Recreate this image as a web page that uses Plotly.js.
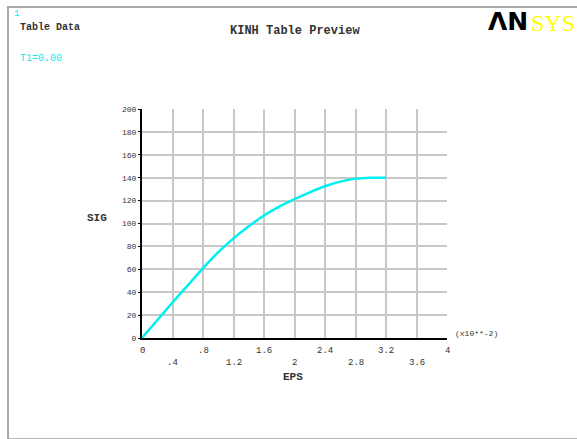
<!DOCTYPE html>
<html>
<head>
<meta charset="utf-8">
<script src="https://cdn.plot.ly/plotly-3.0.1.min.js"></script>
<style>
  html, body { margin: 0; padding: 0; background: #ffffff; }
  #wrap { position: relative; width: 577px; height: 439px; overflow: hidden; }
  #frame { position: absolute; left: 7px; top: 6px; width: 600px; height: 430px;
           border-left: 2px solid #a8a8a8; border-top: 2px solid #a8a8a8; border-bottom: 2px solid #b8b8b8; }
  #chart { position: absolute; left: 0; top: 0; width: 577px; height: 439px; }
</style>
</head>
<body>
<div id="wrap">
  <div id="frame"></div>
  <div id="chart"></div>
</div>
<script>
// Data (EPS in units of 1e-2)
const eps = [0, 0.2, 0.4, 0.6, 0.8, 1.0, 1.2, 1.4, 1.6, 1.8, 2.0, 2.2, 2.4, 2.6, 2.8, 3.0, 3.2];
const sig = [0, 15.5, 31, 46, 61, 75, 87, 97.5, 107, 114.7, 121.3, 127.2, 132.5, 136.6, 139.2, 140, 140];

const xTickVals = [0, 0.4, 0.8, 1.2, 1.6, 2.0, 2.4, 2.8, 3.2, 3.6, 4.0];
const xTickText = ["0", ".4", ".8", "1.2", "1.6", "2", "2.4", "2.8", "3.2", "3.6", "4"];
const yTickVals = [0, 20, 40, 60, 80, 100, 120, 140, 160, 180, 200];
const yTickText = ["0", "20", "40", "60", "80", "100", "120", "140", "160", "180", "200"];

const L = 142, R = 447, T = 109, B = 338, W = 577, H = 439;
function px(xp) { return (xp - L) / (R - L); }
function py(yp) { return (B - yp) / (B - T); }

const mono = "Liberation Mono, Courier New, monospace";
const txt = "#333333";
const cyan = "#00f0f0";

const annotations = [];
xTickVals.forEach((v, i) => {
  const row2 = (i % 2 === 1);
  annotations.push({
    x: v, xref: "x", y: 0, yref: "paper",
    text: xTickText[i], showarrow: false,
    xanchor: "center", yanchor: "middle",
    yshift: row2 ? -25 : -13,
    font: { family: mono, size: 9, color: txt }
  });
});

function label(text, xp, yp, opts) {
  annotations.push(Object.assign({
    x: px(xp), y: py(yp), xref: "paper", yref: "paper",
    text: text, showarrow: false, xanchor: "left", yanchor: "middle",
    font: { family: mono, size: 10, color: txt }
  }, opts || {}));
}

label("1", 12, 14, { font: { family: mono, size: 9, color: cyan } });
label("<b>Table Data</b>", 18, 27, { font: { family: mono, size: 10, color: txt } });
label("T1=0.00", 18, 58, { font: { family: mono, size: 10, color: cyan } });
label("<b>KINH Table Preview</b>", 295, 31, { xanchor: "center", font: { family: mono, size: 12, color: txt } });
label("<b>SIG</b>", 97, 218, { xanchor: "center", font: { family: mono, size: 11, color: txt } });
label("<b>EPS</b>", 293, 377, { xanchor: "center", font: { family: mono, size: 11, color: txt } });
label("(x10**-2)", 453, 333, { font: { family: mono, size: 8, color: txt } });
label("<b>ΛN</b>", 487, 22, { borderpad: 0, font: { family: "DejaVu Sans, Liberation Sans, Arial, sans-serif", size: 25, color: "#000000" } });
label("SYS", 576, 23, { xanchor: "right", borderpad: 0, font: { family: "Liberation Serif, Times New Roman, serif", size: 24, color: "#ffff00" } });

const trace = {
  x: eps, y: sig, type: "scatter", mode: "lines",
  line: { color: cyan, width: 2.5, shape: "spline", smoothing: 0.6 },
  hoverinfo: "skip"
};

const layout = {
  width: W, height: H,
  margin: { l: L, r: W - R, t: T, b: H - B, pad: 0 },
  paper_bgcolor: "rgba(0,0,0,0)",
  plot_bgcolor: "#ffffff",
  showlegend: false,
  xaxis: {
    range: [0, 4], tickvals: xTickVals, showticklabels: false,
    showgrid: true, gridcolor: "#c8c8c8", gridwidth: 2,
    zeroline: false, showline: true, linecolor: "#000000", linewidth: 2,
    ticks: "", fixedrange: true
  },
  yaxis: {
    range: [0, 200], tickvals: yTickVals, ticktext: yTickText,
    tickfont: { family: mono, size: 8, color: txt },
    showgrid: true, gridcolor: "#c8c8c8", gridwidth: 2,
    zeroline: false, showline: true, linecolor: "#000000", linewidth: 2,
    ticks: "outside", ticklen: 2, tickcolor: "#000000", tickwidth: 1,
    fixedrange: true
  },
  annotations: annotations
};

Plotly.newPlot("chart", [trace], layout, { displayModeBar: false, staticPlot: true });
</script>
</body>
</html>
